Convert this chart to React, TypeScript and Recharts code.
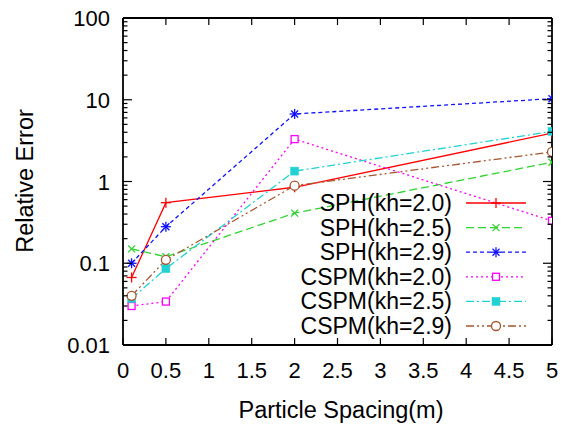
import { LineChart, Line, XAxis, YAxis } from 'recharts'

const spacing = [0.1, 0.5, 2, 5]

const sph20 = [0.067, 0.55, 0.85, 3.9]
const sph25 = [0.15, 0.12, 0.41, 1.72]
const sph29 = [0.1, 0.28, 6.7, 10.3]
const cspm20 = [0.03, 0.034, 3.3, 0.33]
const cspm25 = [0.037, 0.086, 1.34, 4.1]
const cspm29 = [0.04, 0.11, 0.89, 2.3]

const xTicks = [0, 0.5, 1, 1.5, 2, 2.5, 3, 3.5, 4, 4.5, 5]
const yTicks = [
    0.01, 0.02, 0.03, 0.04, 0.05, 0.06, 0.07, 0.08, 0.09,
    0.1, 0.2, 0.3, 0.4, 0.5, 0.6, 0.7, 0.8, 0.9,
    1, 2, 3, 4, 5, 6, 7, 8, 9,
    10, 20, 30, 40, 50, 60, 70, 80, 90,
    100,
]
const yMajor = [0.01, 0.1, 1, 10, 100]

const FONT = '"Liberation Sans", Arial, sans-serif'

type Shape = 'plus' | 'cross' | 'star' | 'box' | 'boxFill' | 'circle'

const SERIES: { key: string; name: string; color: string; dash?: string; shape: Shape }[] = [
    { key: 'sph20', name: 'SPH(kh=2.0)', color: '#ff0000', shape: 'plus' },
    { key: 'sph25', name: 'SPH(kh=2.5)', color: '#2ed52e', dash: '8 4', shape: 'cross' },
    { key: 'sph29', name: 'SPH(kh=2.9)', color: '#1010ff', dash: '4 3', shape: 'star' },
    { key: 'cspm20', name: 'CSPM(kh=2.0)', color: '#ff00ff', dash: '2 3', shape: 'box' },
    { key: 'cspm25', name: 'CSPM(kh=2.5)', color: '#22d2d2', dash: '8 3 2 3', shape: 'boxFill' },
    { key: 'cspm29', name: 'CSPM(kh=2.9)', color: '#a5552f', dash: '8 3 2 3 2 3', shape: 'circle' },
]

const data = spacing.map((x, i) => ({
    x,
    sph20: sph20[i],
    sph25: sph25[i],
    sph29: sph29[i],
    cspm20: cspm20[i],
    cspm25: cspm25[i],
    cspm29: cspm29[i],
}))

function Marker({ cx, cy, shape, color }: { cx: number; cy: number; shape: Shape; color: string }) {
    const w = 1.3
    switch (shape) {
        case 'plus':
            return (
                <g stroke={color} strokeWidth={w}>
                    <line x1={cx - 5} x2={cx + 5} y1={cy} y2={cy} />
                    <line x1={cx} x2={cx} y1={cy - 5} y2={cy + 5} />
                </g>
            )
        case 'cross':
            return (
                <g stroke={color} strokeWidth={w}>
                    <line x1={cx - 3.5} x2={cx + 3.5} y1={cy - 3.5} y2={cy + 3.5} />
                    <line x1={cx - 3.5} x2={cx + 3.5} y1={cy + 3.5} y2={cy - 3.5} />
                </g>
            )
        case 'star':
            return (
                <g stroke={color} strokeWidth={w}>
                    <line x1={cx - 5} x2={cx + 5} y1={cy} y2={cy} />
                    <line x1={cx} x2={cx} y1={cy - 5} y2={cy + 5} />
                    <line x1={cx - 3.5} x2={cx + 3.5} y1={cy - 3.5} y2={cy + 3.5} />
                    <line x1={cx - 3.5} x2={cx + 3.5} y1={cy + 3.5} y2={cy - 3.5} />
                </g>
            )
        case 'box':
            return <rect x={cx - 3.5} y={cy - 3.5} width={7} height={7} fill="#fff" stroke={color} strokeWidth={w} />
        case 'boxFill':
            return <rect x={cx - 4} y={cy - 4} width={8} height={8} fill={color} stroke={color} strokeWidth={0.5} />
        default:
            return <circle cx={cx} cy={cy} r={4.5} fill="#fff" stroke={color} strokeWidth={w} />
    }
}

function YTick(props: any) {
    const { x, y, payload, side } = props
    const v = payload.value
    const major = yMajor.includes(v)
    const dir = side === 'left' ? 1 : -1
    return (
        <g>
            <line x1={x} x2={x + dir * (major ? 9 : 4.5)} y1={y} y2={y} stroke="#000" strokeWidth={1.2} />
            {side === 'left' && major && (
                <text x={x - 13} y={y + 8} textAnchor="end" fontSize={22} fontFamily={FONT} fill="#000">
                    {String(v)}
                </text>
            )}
        </g>
    )
}

function XTick(props: any) {
    const { x, y, payload, side } = props
    const dir = side === 'bottom' ? -1 : 1
    return (
        <g>
            <line x1={x} x2={x} y1={y} y2={y + dir * 7} stroke="#000" strokeWidth={1.2} />
            {side === 'bottom' && (
                <text x={x} y={y + 33} textAnchor="middle" fontSize={22} fontFamily={FONT} fill="#000">
                    {String(payload.value)}
                </text>
            )}
        </g>
    )
}

export default function App() {
    const frame = { stroke: '#000', strokeWidth: 1.8 }
    return (
        <div style={{ position: 'absolute', left: 0, top: 0, width: 561, height: 425, background: '#fff' }}>
            <LineChart width={561} height={425} data={data} margin={{ top: 17, right: 8, bottom: 0, left: 0 }}>
                <XAxis
                    dataKey="x"
                    type="number"
                    domain={[0, 5]}
                    ticks={xTicks}
                    interval={0}
                    allowDataOverflow
                    height={80}
                    tickSize={0}
                    tickMargin={0}
                    tickLine={false}
                    axisLine={frame}
                    tick={(p: any) => <XTick {...p} side="bottom" />}
                />
                <XAxis
                    xAxisId="top"
                    orientation="top"
                    dataKey="x"
                    type="number"
                    domain={[0, 5]}
                    ticks={xTicks}
                    interval={0}
                    allowDataOverflow
                    height={1}
                    tickSize={0}
                    tickMargin={0}
                    tickLine={false}
                    axisLine={frame}
                    tick={(p: any) => <XTick {...p} side="top" />}
                />
                <YAxis
                    type="number"
                    scale="log"
                    domain={[0.01, 100]}
                    ticks={yTicks}
                    interval={0}
                    allowDataOverflow
                    width={123}
                    tickSize={0}
                    tickMargin={0}
                    tickLine={false}
                    axisLine={frame}
                    tick={(p: any) => <YTick {...p} side="left" />}
                />
                <YAxis
                    yAxisId="right"
                    orientation="right"
                    type="number"
                    scale="log"
                    domain={[0.01, 100]}
                    ticks={yTicks}
                    interval={0}
                    allowDataOverflow
                    width={1}
                    tickSize={0}
                    tickMargin={0}
                    tickLine={false}
                    axisLine={frame}
                    tick={(p: any) => <YTick {...p} side="right" />}
                />
                {SERIES.map(s => (
                    <Line
                        key={s.key}
                        dataKey={s.key}
                        type="linear"
                        stroke={s.color}
                        strokeWidth={1.3}
                        strokeDasharray={s.dash}
                        isAnimationActive={false}
                        dot={(p: any) => (
                            <Marker key={`${s.key}-${p.index}`} cx={p.cx} cy={p.cy} shape={s.shape} color={s.color} />
                        )}
                        activeDot={false}
                    />
                ))}
            </LineChart>
            <svg
                width={561}
                height={425}
                style={{ position: 'absolute', left: 0, top: 0, pointerEvents: 'none' }}
            >
                <text
                    x={33}
                    y={181}
                    transform="rotate(-90, 33, 181)"
                    textAnchor="middle"
                    fontSize={23.5}
                    fontFamily={FONT}
                    fill="#000"
                >
                    Relative Error
                </text>
                <text x={341} y={418} textAnchor="middle" fontSize={23.5} fontFamily={FONT} fill="#000">
                    Particle Spacing(m)
                </text>
                {SERIES.map((s, i) => {
                    const cy = 203 + i * 24.6
                    return (
                        <g key={s.key}>
                            <text x={452} y={cy + 8} textAnchor="end" fontSize={23} fontFamily={FONT} fill="#000">
                                {s.name}
                            </text>
                            <line x1={466} x2={526} y1={cy} y2={cy} stroke={s.color} strokeWidth={1.3} strokeDasharray={s.dash} />
                            <Marker cx={496} cy={cy} shape={s.shape} color={s.color} />
                        </g>
                    )
                })}
            </svg>
        </div>
    )
}
